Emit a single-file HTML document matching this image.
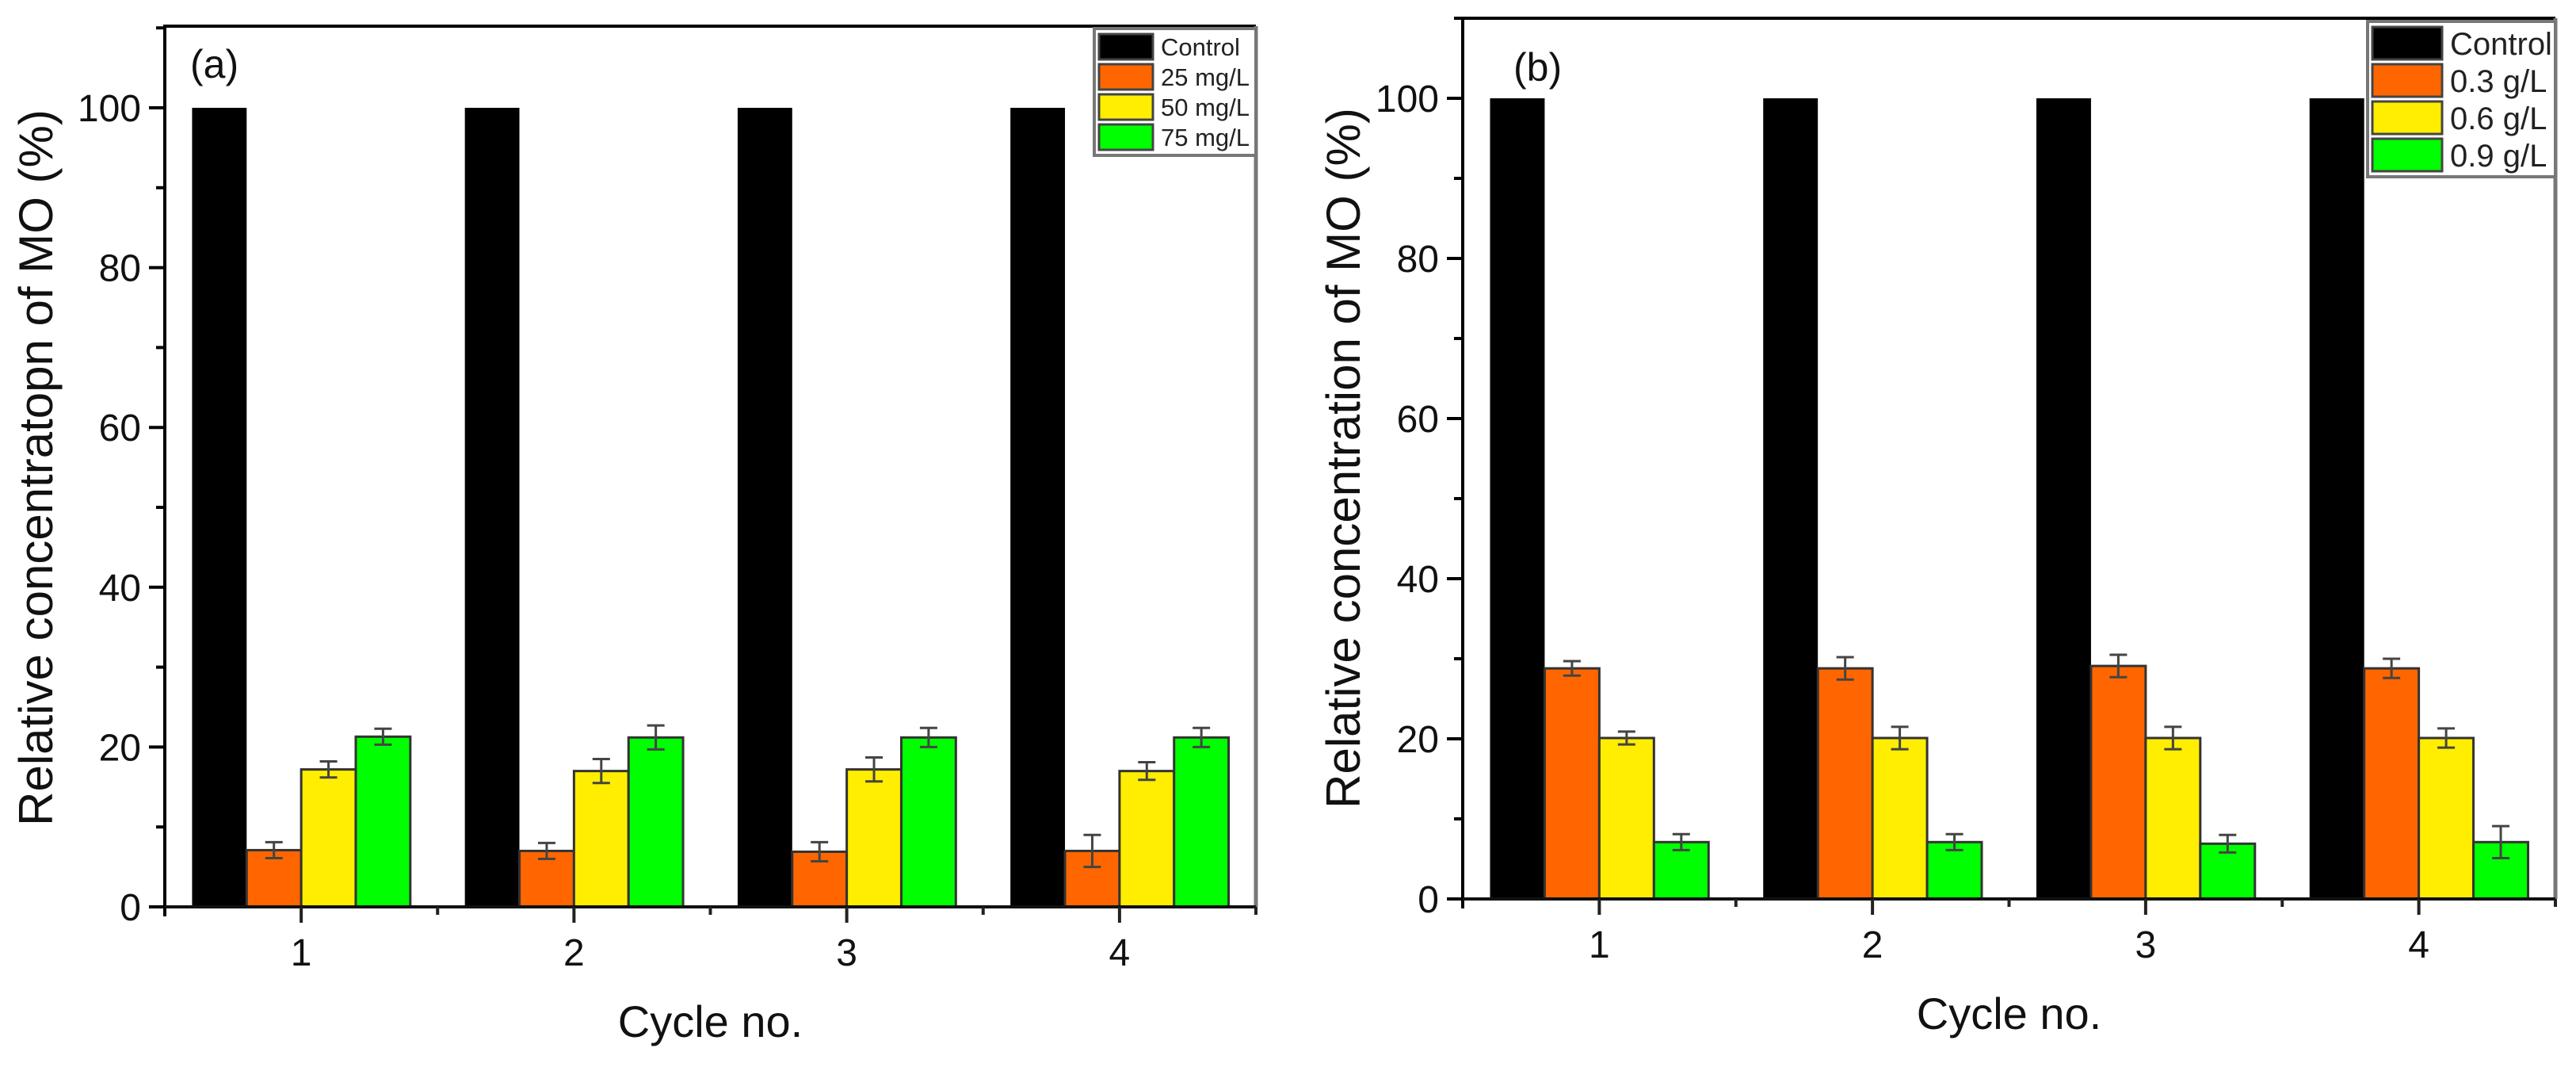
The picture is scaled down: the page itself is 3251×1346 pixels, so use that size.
<!DOCTYPE html>
<html><head><meta charset="utf-8"><style>
html,body{margin:0;padding:0;background:#fff;}
svg{display:block;font-family:"Liberation Sans",Arial,sans-serif;}
</style></head><body>
<svg id="chart" width="3251" height="1346" viewBox="0 0 3251 1346" xmlns="http://www.w3.org/2000/svg">
<rect width="3251" height="1346" fill="#fff"/>
</svg>
<script>
// ---- data ----
const categories = ["1","2","3","4"];
const yTicks = [0,20,40,60,80,100];
const colors = ["#000000","#ff6600","#ffee00","#00ff00"];

const aLegend = ["Control","25 mg/L","50 mg/L","75 mg/L"];
const aControl = [100,100,100,100];
const aLow = [7.1,7.0,6.9,7.0];
const aMid = [17.2,17.0,17.2,17.0];
const aHigh = [21.3,21.2,21.2,21.2];
const aErrControl = [0,0,0,0];
const aErrLow = [1,1,1.2,2];
const aErrMid = [1,1.5,1.5,1.1];
const aErrHigh = [1,1.5,1.2,1.2];

const bLegend = ["Control","0.3 g/L","0.6 g/L","0.9 g/L"];
const bControl = [100,100,100,100];
const bLow = [28.8,28.8,29.1,28.8];
const bMid = [20.1,20.1,20.1,20.1];
const bHigh = [7.1,7.1,6.9,7.1];
const bErrControl = [0,0,0,0];
const bErrLow = [0.9,1.4,1.4,1.2];
const bErrMid = [0.8,1.4,1.4,1.2];
const bErrHigh = [1,1,1.1,2];

const NS = "http://www.w3.org/2000/svg";
const svg = document.getElementById('chart');
function mk(tag, attrs, parent){
  const e = document.createElementNS(NS, tag);
  for (const k in attrs) e.setAttribute(k, attrs[k]);
  (parent||svg).appendChild(e);
  return e;
}

function panel(cfg){
  const g = mk('g', {});
  
  
  const L=cfg.left, R=cfg.right, T=cfg.top, B=cfg.bottom, ymax=cfg.ymax;
  const x = v => L + (v - 0.5) * (R - L) / categories.length;
  const y = v => B - v * cfg.ppu;
  const series = cfg.series, errs = cfg.errs;
  const bw = (R - L) / categories.length * cfg.groupFrac / series.length;

  categories.forEach((c, ci) => {
    const cx = x(ci + 1);
    const gx0 = cx - bw * series.length / 2;
    series.forEach((s, si) => {
      const v = s[ci];
      const bx = gx0 + si * bw;
      const r = mk('rect', {x: bx, y: y(v), width: bw, height: B - y(v), fill: colors[si],
        stroke: si === 0 ? 'none' : '#333', 'stroke-width': 3}, g);
      
      
      const e = errs[si][ci];
      if (e > 0) {
        const ex = bx + bw / 2;
        const eg = mk('g', {stroke: '#444', 'stroke-width': 3}, g);
        
        
        mk('line', {x1: ex, x2: ex, y1: y(v + e), y2: y(v - e)}, eg);
        mk('line', {x1: ex - 11, x2: ex + 11, y1: y(v + e), y2: y(v + e)}, eg);
        mk('line', {x1: ex - 11, x2: ex + 11, y1: y(v - e), y2: y(v - e)}, eg);
      }
    });
  });

  const top = mk('line', {x1: L, x2: R, y1: T, y2: T, stroke: '#000', 'stroke-width': 4}, g);
   
  const right = mk('line', {x1: R, x2: R, y1: T, y2: B, stroke: '#777', 'stroke-width': 5}, g);
   
  const yax = mk('line', {x1: L, x2: L, y1: T - 2, y2: B + 12, stroke: '#000', 'stroke-width': 4}, g);
   
  const xax = mk('line', {x1: L - 20, x2: R, y1: B, y2: B, stroke: '#111', 'stroke-width': 4}, g);
   

  yTicks.forEach(t => {
    mk('line', {x1: L - 20, x2: L, y1: y(t), y2: y(t), stroke: '#000', 'stroke-width': 4}, g);
    const tx = mk('text', {x: L - 30, y: y(t) + 17, 'text-anchor': 'end', 'font-size': 48, fill: '#111'}, g);
    tx.textContent = t;
    
    
    if (t + 10 <= ymax) mk('line', {x1: L - 11, x2: L, y1: y(t + 10), y2: y(t + 10), stroke: '#000', 'stroke-width': 4}, g);
  });
  categories.forEach((c, ci) => {
    const cx = x(ci + 1);
    mk('line', {x1: cx, x2: cx, y1: B, y2: B + 20, stroke: '#222', 'stroke-width': 4}, g);
    mk('line', {x1: cx + (R-L)/8, x2: cx + (R-L)/8, y1: B, y2: B + 10, stroke: '#222', 'stroke-width': 4}, g);
    const tx = mk('text', {x: cx, y: B + 74, 'text-anchor': 'middle', 'font-size': 48, fill: '#111'}, g);
    tx.textContent = c;
    
    
  });

  const xt = mk('text', {x: (L + R) / 2, y: cfg.xTitleY, 'text-anchor': 'middle', 'font-size': 56, fill: '#111'}, g);
  xt.textContent = 'Cycle no.';
  
  
  const yt = mk('text', {x: 0, y: 0, 'text-anchor': 'middle', 'font-size': 60, fill: '#111',
    transform: `translate(${cfg.yTitleX},${cfg.yTitleY}) rotate(-90)`}, g);
  yt.textContent = cfg.yTitle;
  
  
  const pl = mk('text', {x: cfg.labelX, y: cfg.labelY, 'font-size': 50, fill: '#111'}, g);
  pl.textContent = cfg.label;
  
  

  const lg = mk('g', {}, g);
  
  
  const Lx = cfg.leg.x, Ly = cfg.leg.y, Lw = R - cfg.leg.x, Lh = cfg.leg.h;
  mk('rect', {x: Lx, y: Ly, width: Lw, height: Lh, fill: '#fff', stroke: '#777', 'stroke-width': 4}, lg);
  const rh = (Lh - 8) / 4;
  cfg.legend.forEach((name, i) => {
    const ry = Ly + 4 + i * rh;
    const e = mk('g', {}, lg);
    
    
    mk('rect', {x: Lx + 6, y: ry + 3, width: cfg.leg.sw, height: rh - 6, fill: colors[i], stroke: '#444', 'stroke-width': 3}, e);
    const t = mk('text', {x: Lx + 6 + cfg.leg.sw + 10, y: ry + rh / 2 + cfg.leg.fs * 0.36, 'font-size': cfg.leg.fs, fill: '#222'}, e);
    t.textContent = name;
  });
}

panel({id: 'a', left: 208, right: 1585, top: 33, bottom: 1144, ymax: 110, ppu: 10.08, groupFrac: 0.8,
  series: [aControl, aLow, aMid, aHigh], errs: [aErrControl, aErrLow, aErrMid, aErrHigh],
  legend: aLegend, yTitle: 'Relative concentratopn of MO (%)', yTitleX: 66, yTitleY: 590,
  xTitleY: 1308, label: '(a)', labelX: 240, labelY: 98,
  leg: {x: 1381, y: 36, h: 160, sw: 68, fs: 31}});

panel({id: 'b', left: 1846, right: 3225, top: 23, bottom: 1134, ymax: 110, ppu: 10.1, groupFrac: 0.8,
  series: [bControl, bLow, bMid, bHigh], errs: [bErrControl, bErrLow, bErrMid, bErrHigh],
  legend: bLegend, yTitle: 'Relative concentration of MO (%)', yTitleX: 1716, yTitleY: 578,
  xTitleY: 1298, label: '(b)', labelX: 1910, labelY: 102,
  leg: {x: 2988, y: 27, h: 196, sw: 88, fs: 40}});
</script>
</body></html>
